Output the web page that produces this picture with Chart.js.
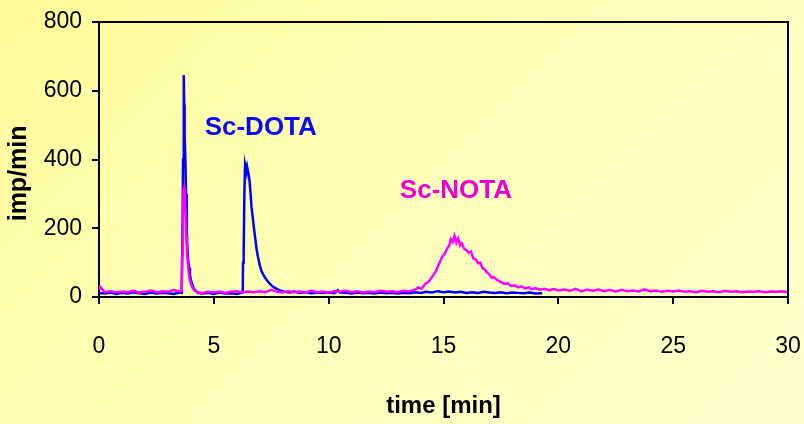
<!DOCTYPE html>
<html>
<head>
<meta charset="utf-8">
<script src="https://cdn.jsdelivr.net/npm/chart.js@4.4.1/dist/chart.umd.min.js"></script>
<style>
  html, body { margin: 0; padding: 0; }
  body { width: 804px; height: 424px; background: linear-gradient(135deg, #fffb99 0%, #ffffbb 50%, #ffffcc 100%); }
  canvas { display: block; }
</style>
</head>
<body>
<canvas id="chart" width="804" height="424"></canvas>
<script>
// Sc-DOTA trace (blue), time in min
var dotaTime = [0.00,0.25,0.50,0.75,1.00,1.25,1.50,1.75,2.00,2.25,2.50,2.75,3.00,3.25,3.50,3.60,3.63,3.66,3.69,3.71,3.73,3.76,3.79,3.82,3.85,3.88,3.92,3.96,4.00,4.05,4.10,4.20,4.30,4.50,4.75,5.00,5.25,5.50,5.75,6.00,6.20,6.26,6.27,6.30,6.33,6.36,6.40,6.44,6.48,6.52,6.56,6.60,6.64,6.68,6.74,6.80,6.86,6.92,7.00,7.08,7.16,7.24,7.32,7.42,7.52,7.64,7.78,7.92,8.10,8.30,8.50,8.75,9.00,9.25,9.50,9.75,10.00,10.25,10.40,10.50,10.75,11.00,11.25,11.50,11.75,12.00,12.25,12.50,12.75,13.00,13.25,13.50,13.75,14.00,14.25,14.50,14.75,15.00,15.25,15.50,15.75,16.00,16.25,16.50,16.75,17.00,17.25,17.50,17.75,18.00,18.25,18.50,18.75,19.00,19.30];
var dotaCounts = [12,10,13,9,12,10,14,11,9,13,10,12,11,9,13,12,150,400,646,560,470,400,300,190,140,110,85,65,50,38,28,18,12,10,12,9,13,10,11,9,12,14,100,130,300,385,372,382,368,355,335,300,262,240,205,172,140,118,92,75,64,55,48,40,33,27,22,18,15,13,16,12,14,11,13,12,14,11,20,13,12,10,13,11,12,10,13,11,12,10,12,11,14,12,15,13,17,14,16,13,15,12,14,12,15,13,12,14,11,13,12,11,13,10,11];

// Sc-NOTA trace (magenta)
var notaTime = [0.00,0.05,0.15,0.25,0.50,0.75,1.00,1.25,1.50,1.75,2.00,2.25,2.50,2.75,3.00,3.25,3.50,3.60,3.62,3.65,3.68,3.71,3.74,3.77,3.80,3.83,3.87,3.91,3.95,4.00,4.08,4.18,4.30,4.50,4.75,5.00,5.25,5.50,5.75,6.00,6.25,6.50,6.75,7.00,7.25,7.50,7.75,8.00,8.25,8.50,8.75,9.00,9.25,9.50,9.75,10.00,10.25,10.50,10.75,11.00,11.25,11.50,11.75,12.00,12.25,12.50,12.75,13.00,13.25,13.50,13.75,13.90,14.05,14.20,14.35,14.50,14.65,14.80,14.95,15.05,15.15,15.25,15.32,15.40,15.48,15.56,15.64,15.72,15.80,15.90,16.00,16.10,16.20,16.30,16.40,16.50,16.60,16.70,16.80,16.90,17.00,17.10,17.20,17.35,17.50,17.65,17.80,17.95,18.10,18.25,18.40,18.55,18.70,18.85,19.00,19.20,19.40,19.60,19.80,20.00,20.25,20.50,20.75,21.00,21.25,21.50,21.75,22.00,22.25,22.50,22.75,23.00,23.25,23.50,23.75,24.00,24.25,24.50,24.75,25.00,25.25,25.50,25.75,26.00,26.25,26.50,26.75,27.00,27.25,27.50,27.75,28.00,28.25,28.50,28.75,29.00,29.25,29.50,29.75,30.00];
var notaCounts = [18,30,22,14,17,13,16,14,18,13,15,19,14,17,15,20,16,18,120,230,310,318,290,240,180,130,95,70,50,38,26,18,14,12,15,13,16,12,15,17,13,16,14,17,14,21,15,13,17,14,16,13,18,14,16,13,17,15,18,14,17,13,16,14,18,15,17,14,18,16,21,28,24,38,44,58,72,95,118,125,140,150,168,160,178,158,170,150,156,140,136,128,132,112,110,98,100,84,80,70,66,56,58,48,44,38,40,32,34,28,31,25,28,23,26,21,24,20,23,19,22,18,24,17,21,18,22,17,20,16,21,17,19,16,22,17,19,15,18,16,19,15,17,14,18,15,17,14,18,15,17,14,16,15,17,14,16,15,17,14];

var xTicks = [0, 5, 10, 15, 20, 25, 30];
var yTicks = [0, 200, 400, 600, 800];

var labels = [
  {text: "Sc-DOTA", x: 4.6, y: 471, color: "#0a0af0"},
  {text: "Sc-NOTA", x: 13.1, y: 288, color: "#ea00d2"}
];

function toPoints(xs, ys) {
  var pts = [];
  for (var i = 0; i < xs.length; i++) pts.push({x: xs[i], y: ys[i]});
  return pts;
}

var tickFont = {family: "'Liberation Sans', Arial, sans-serif", size: 23};
var titleFont = {family: "'Liberation Sans', Arial, sans-serif", size: 24, weight: "bold"};

// frame on top + right, and the two peak labels
var extras = {
  id: "extras",
  afterDatasetsDraw: function(chart) {
    var ctx = chart.ctx, a = chart.chartArea;
    ctx.save();
    ctx.strokeStyle = "#000";
    ctx.lineWidth = 2;
    ctx.beginPath();
    ctx.moveTo(a.left, a.top);
    ctx.lineTo(a.right, a.top);
    ctx.lineTo(a.right, a.bottom);
    ctx.stroke();
    ctx.font = "bold 26px 'Liberation Sans', Arial, sans-serif";
    ctx.textBaseline = "alphabetic";
    ctx.textAlign = "left";
    for (var i = 0; i < labels.length; i++) {
      ctx.fillStyle = labels[i].color;
      ctx.fillText(labels[i].text, chart.scales.x.getPixelForValue(labels[i].x), chart.scales.y.getPixelForValue(labels[i].y));
    }
    ctx.restore();
  }
};

new Chart(document.getElementById("chart"), {
  type: "line",
  data: {
    datasets: [
      {label: "Sc-DOTA", data: toPoints(dotaTime, dotaCounts), borderColor: "#0000ff", borderWidth: 2.5, pointRadius: 0, tension: 0, order: 1},
      {label: "Sc-NOTA", data: toPoints(notaTime, notaCounts), borderColor: "#ff00ff", borderWidth: 2.5, pointRadius: 0, tension: 0, order: 0}
    ]
  },
  options: {
    responsive: false,
    animation: false,
    layout: {padding: {top: 22, right: 16, left: 0, bottom: 0}},
    plugins: {legend: {display: false}, tooltip: {enabled: false}},
    scales: {
      x: {
        type: "linear", min: 0, max: 30,
        afterBuildTicks: function(s) { s.ticks = xTicks.map(function(v) { return {value: v}; }); },
        afterFit: function(s) { s.height = 127; s.paddingLeft = 0; s.paddingRight = 0; },
        ticks: {color: "#000", font: tickFont, padding: 29, maxRotation: 0},
        grid: {drawOnChartArea: false, drawTicks: true, tickLength: 7, color: "#000", lineWidth: 2},
        border: {display: true, color: "#000", width: 2},
        title: {display: true, text: "time [min]", color: "#000", font: titleFont, padding: {top: 0, bottom: 3}}
      },
      y: {
        min: 0, max: 800,
        afterBuildTicks: function(s) { s.ticks = yTicks.map(function(v) { return {value: v}; }); },
        afterFit: function(s) { s.width = 99; s.paddingTop = 0; s.paddingBottom = 0; },
        ticks: {color: "#000", font: tickFont, padding: 10},
        grid: {drawOnChartArea: false, drawTicks: true, tickLength: 7, color: "#000", lineWidth: 2},
        border: {display: true, color: "#000", width: 2},
        title: {display: true, text: "imp/min    ", color: "#000", font: {family: "'Liberation Sans', Arial, sans-serif", size: 25, weight: "bold"}, padding: {top: 4, bottom: 0}}
      }
    }
  },
  plugins: [extras]
});
</script>
</body>
</html>
